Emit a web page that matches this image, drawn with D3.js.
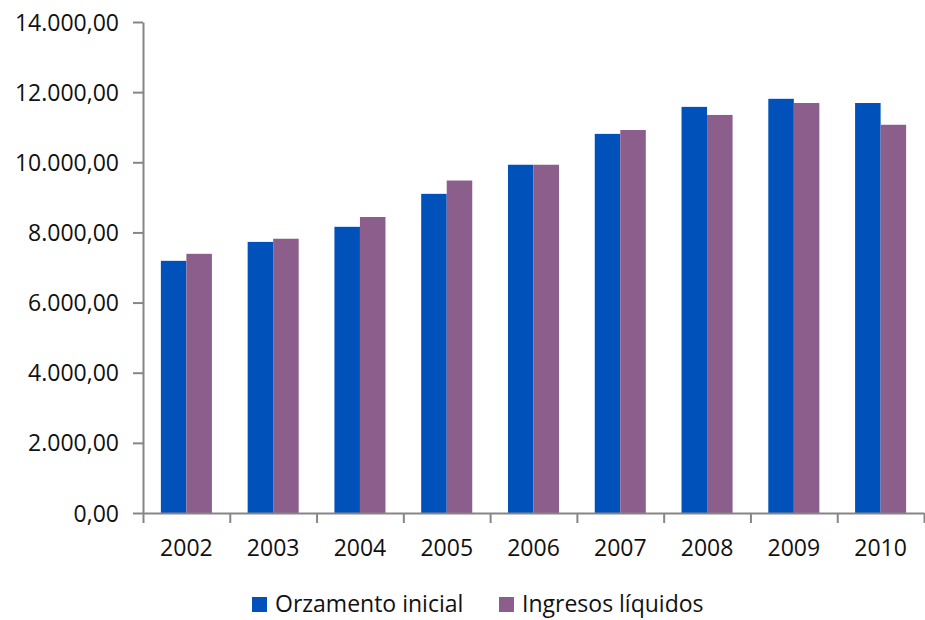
<!DOCTYPE html>
<html>
<head>
	<meta charset="utf-8">
	<title>Orzamento inicial e ingresos líquidos</title>
	<script type="text/javascript" src="https://cdn.jsdelivr.net/npm/d3@7"></script>
	<style>
		body {
			margin: 0;
			background: #fff;
			font-family: "Open Sans", sans-serif;
		}
		.axis text {
			font-family: "Open Sans", sans-serif;
			font-size: 23px;
			fill: #111;
		}
	</style>
</head>
<body>
	<div id="chart"></div>
	<script>

		// data

		const years      = ["2002", "2003", "2004", "2005", "2006", "2007", "2008", "2009", "2010"];
		const orzamento  = [7190, 7730, 8160, 9100, 9930, 10810, 11580, 11810, 11690];
		const ingresos   = [7390, 7820, 8440, 9480, 9930, 10920, 11350, 11690, 11070];
		const seriesNames = ["Orzamento inicial", "Ingresos líquidos"];
		const yTicks     = [0, 2000, 4000, 6000, 8000, 10000, 12000, 14000];

		// customization

		const width   = 925;
		const height  = 620;
		const colors  = ["#0051ba", "#8c5e8c"];
		const axisColor = "#868686";
		const margin  = { top: 22, right: 1, bottom: 107, left: 143 };

		const locale = d3.formatLocale({ decimal: ",", thousands: ".", grouping: [3], currency: ["", ""] });
		const fmt = locale.format(",.2f");

		const rows = years.map((y, i) => ({ year: y, values: [orzamento[i], ingresos[i]] }));

		const svg = d3.select("#chart").append("svg")
			.attr("width", width)
			.attr("height", height)
			.attr("viewBox", [0, 0, width, height]);

		const x = d3.scaleBand(years, [margin.left, width - margin.right]).padding(0);
		const xz = d3.scaleBand(seriesNames, [0, x.bandwidth()]).paddingInner(0).paddingOuter(0.7);
		const y = d3.scaleLinear([0, 14000], [height - margin.bottom, margin.top]);
		const xEdges = d3.scaleLinear([0, years.length], [margin.left, width - margin.right]);

		// bars
		svg.append("g")
			.selectAll("g")
			.data(rows)
			.join("g")
			.attr("transform", d => `translate(${x(d.year)},0)`)
			.selectAll("rect")
			.data(d => d.values.map((v, k) => ({ name: seriesNames[k], v, k })))
			.join("rect")
			.attr("x", d => xz(d.name))
			.attr("y", d => y(d.v))
			.attr("width", xz.bandwidth())
			.attr("height", d => y(0) - y(d.v))
			.attr("fill", d => colors[d.k]);

		// y axis
		svg.append("g")
			.attr("class", "axis")
			.attr("transform", `translate(${margin.left},0)`)
			.call(d3.axisLeft(y).tickValues(yTicks).tickFormat(fmt).tickSize(10).tickSizeOuter(0).tickPadding(14))
			.call(g => g.selectAll("path, line").attr("stroke", axisColor).attr("stroke-width", 2))
			.call(g => g.selectAll("text").attr("dy", "0.35em"));

		// x axis: tick marks at category edges
		svg.append("g")
			.attr("class", "axis")
			.attr("transform", `translate(0,${y(0)})`)
			.call(d3.axisBottom(xEdges).ticks(years.length).tickFormat("").tickSize(10).tickSizeOuter(0))
			.call(g => g.selectAll("path, line").attr("stroke", axisColor).attr("stroke-width", 2));

		// x labels centred in categories
		svg.append("g")
			.attr("class", "axis")
			.attr("transform", `translate(0,${y(0)})`)
			.call(d3.axisBottom(x).tickSize(0).tickPadding(27))
			.call(g => g.select(".domain").remove());

		// legend
		const legendX = [252, 499];
		const legend = svg.append("g")
			.selectAll("g")
			.data(seriesNames)
			.join("g")
			.attr("transform", (d, i) => `translate(${legendX[i]},597)`);
		legend.append("rect")
			.attr("width", 15)
			.attr("height", 15)
			.attr("fill", (d, i) => colors[i]);
		legend.append("text")
			.attr("x", 23)
			.attr("y", 15)
			.attr("font-family", "Open Sans, sans-serif")
			.attr("font-size", 23)
			.attr("fill", "#111")
			.text(d => d);

	</script>
</body>
</html>
